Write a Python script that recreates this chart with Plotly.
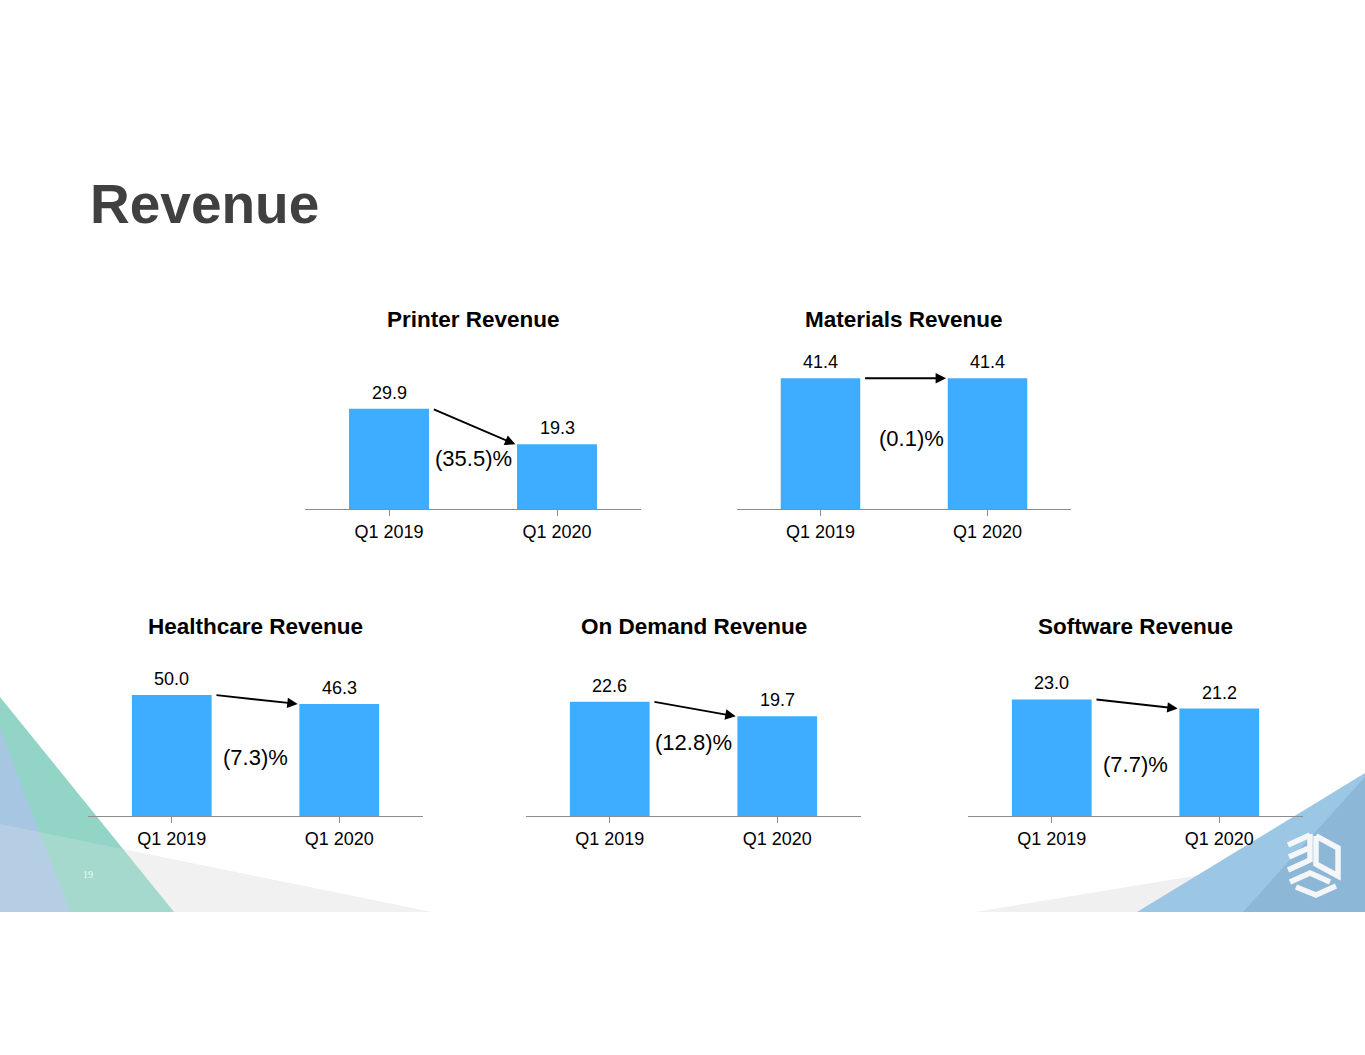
import plotly.graph_objects as go

W, H = 1365, 1055

quarters = ["Q1 2019", "Q1 2020"]
chart_titles = ["Printer Revenue", "Materials Revenue", "Healthcare Revenue",
                "On Demand Revenue", "Software Revenue"]
printer = [29.9, 19.3]
materials = [41.4, 41.4]
healthcare = [50.0, 46.3]
on_demand = [22.6, 19.7]
software = [23.0, 21.2]
changes = ["(35.5)%", "(0.1)%", "(7.3)%", "(12.8)%", "(7.7)%"]

series = [printer, materials, healthcare, on_demand, software]

# placement of each small chart on the slide, in pixels:
# left, right, axis line y, px per unit, title y, change label y, change label dx
boxes = [
    (305, 641, 509, 3.35, 319, 459, 0),
    (737, 1071, 509, 3.16, 319, 439, 7),
    (88, 423, 816, 2.42, 626, 757, 0),
    (526, 861, 816, 5.06, 626, 742, 0),
    (968, 1303, 816, 5.07, 626, 764, 0),
]

BAR = "#3FADFF"
AXIS = "#8c8c8c"
FONT = "Liberation Sans, Arial, sans-serif"
BAR_W = 0.476


def px(x):
    return x / W


def py(y):
    return 1 - y / H


def path(pts, close=True):
    s = "M " + " L ".join(f"{px(a):.5f},{py(b):.5f}" for a, b in pts)
    return s + (" Z" if close else "")


fig = go.Figure()
annotations = []

for i, (vals, box) in enumerate(zip(series, boxes)):
    left, right, ax_y, scale, title_y, chg_y, chg_dx = box
    n = "" if i == 0 else str(i + 1)
    dom_h = 150
    fig.add_trace(go.Bar(x=quarters, y=vals, width=BAR_W, marker_color=BAR,
                         marker_line_width=0, xaxis="x" + n, yaxis="y" + n,
                         showlegend=False, hoverinfo="skip"))
    fig.layout["xaxis" + n] = dict(domain=[px(left), px(right)], anchor="y" + n,
                                   type="category", range=[-0.5, 1.5],
                                   showline=True, linecolor=AXIS, linewidth=1.3,
                                   ticks="outside", ticklen=6, tickcolor=AXIS,
                                   tickwidth=1.2, showgrid=False, zeroline=False,
                                   tickfont=dict(family=FONT, size=18, color="#000"),
                                   ticklabelstandoff=0, fixedrange=True)
    fig.layout["yaxis" + n] = dict(domain=[py(ax_y), py(ax_y - dom_h)], anchor="x" + n,
                                   range=[0, dom_h / scale], visible=False,
                                   fixedrange=True)
    xr, yr = "x" + n, "y" + n
    # value labels
    for j, v in enumerate(vals):
        annotations.append(dict(x=quarters[j], y=v, xref=xr, yref=yr, text=f"{v:.1f}",
                                showarrow=False, yanchor="bottom", yshift=4,
                                font=dict(family=FONT, size=18, color="#000")))
    # arrow between the bar tops
    annotations.append(dict(x=1 - BAR_W / 2 - 0.01, y=vals[1], ax=BAR_W / 2 + 0.02, ay=vals[0],
                            xref=xr, yref=yr, axref=xr, ayref=yr, text="",
                            showarrow=True, arrowhead=2, arrowsize=1.1, arrowwidth=1.9,
                            arrowcolor="#000", standoff=0, startstandoff=0))
    # change label
    annotations.append(dict(x=px((left + right) / 2 + chg_dx), y=py(chg_y),
                            xref="paper", yref="paper", text=changes[i], showarrow=False,
                            xanchor="center", yanchor="middle",
                            font=dict(family=FONT, size=22, color="#000")))
    # chart title
    annotations.append(dict(x=px((left + right) / 2), y=py(title_y), xref="paper",
                            yref="paper", text=f"<b>{chart_titles[i]}</b>", showarrow=False,
                            xanchor="center", yanchor="middle",
                            font=dict(family=FONT, size=22.5, color="#000")))

annotations.append(dict(x=px(88), y=py(204), xref="paper", yref="paper",
                        text="<b>Revenue</b>", showarrow=False, xanchor="left",
                        yanchor="middle", font=dict(family=FONT, size=55, color="#404040")))
annotations.append(dict(x=px(88), y=py(874), xref="paper", yref="paper", text="19",
                        showarrow=False, xanchor="center", yanchor="middle",
                        font=dict(family="Liberation Serif, serif", size=10,
                                  color="rgba(255,255,255,0.85)")))

shapes = [
    # bottom left decoration
    dict(path=path([(0, 824), (432, 912), (0, 912)]), fillcolor="#f2f2f2"),
    dict(path=path([(0, 697), (174, 912), (0, 912)]), fillcolor="#92d4c5"),
    dict(path=path([(0, 728), (70, 912), (0, 912)]), fillcolor="#a6c6e2"),
    dict(path=path([(0, 824), (432, 912), (0, 912)]), fillcolor="rgba(235,235,235,0.22)"),
    # bottom right decoration
    dict(path=path([(975, 912), (1365, 848), (1365, 912)]), fillcolor="#f0f0f0"),
    dict(path=path([(1365, 773), (1137, 912), (1365, 912)]), fillcolor="#9bc7e5"),
    dict(path=path([(1365, 777), (1243, 912), (1365, 912)]), fillcolor="#8cb7d7"),
]
for s in shapes:
    s.update(type="path", xref="paper", yref="paper", line_width=0, layer="below")

# rough white "3D" cube logo
logo = [
    [(1288, 845), (1310, 835)],
    [(1289, 857), (1309, 848)],
    [(1288, 870), (1310, 860)],
    [(1310, 834), (1310, 862)],
    [(1316, 836), (1338, 848), (1338, 876), (1316, 864), (1316, 836)],
    [(1290, 882), (1310, 873), (1330, 882)],
    [(1296, 887), (1316, 895), (1336, 886)],
]
for pts in logo:
    shapes.append(dict(type="path", xref="paper", yref="paper",
                       path=path(pts, close=False),
                       line=dict(color="#f4f6f8", width=5.5), fillcolor="rgba(0,0,0,0)",
                       layer="above"))

fig.update_layout(width=W, height=H, margin=dict(l=0, r=0, t=0, b=0),
                  paper_bgcolor="white", plot_bgcolor="rgba(0,0,0,0)",
                  annotations=annotations, shapes=shapes, showlegend=False,
                  font=dict(family=FONT))

fig.write_html("out.html", config={"displayModeBar": False},
               post_script="document.body.style.margin='0px';")
